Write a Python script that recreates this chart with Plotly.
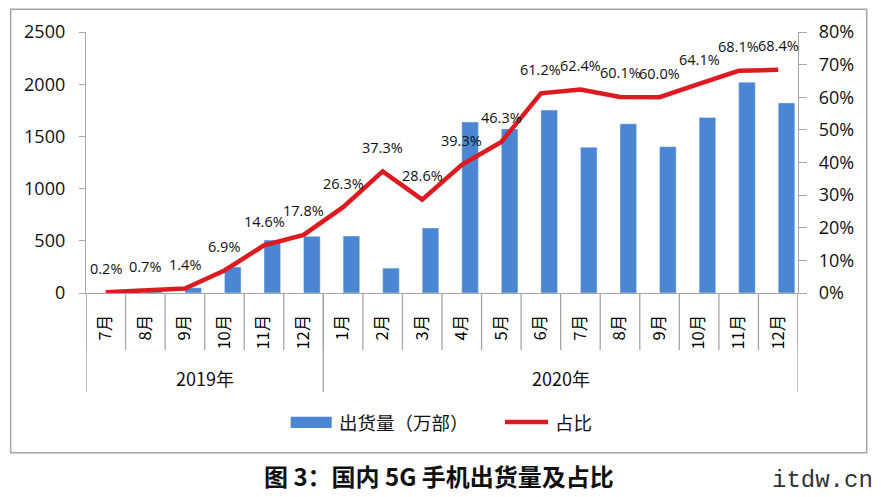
import plotly.graph_objects as go

months = ["7月", "8月", "9月", "10月", "11月", "12月",
          "1月", "2月", "3月", "4月", "5月", "6月", "7月", "8月", "9月", "10月", "11月", "12月"]
years = ["2019年", "2020年"]
year_counts = [6, 12]
shipments = [3, 20, 50, 249, 507, 543,
             546, 238, 623, 1638, 1572, 1752, 1396, 1620, 1402, 1682, 2019, 1821]
share = [0.2, 0.7, 1.4, 6.9, 14.6, 17.8,
         26.3, 37.3, 28.6, 39.3, 46.3, 61.2, 62.4, 60.1, 60.0, 64.1, 68.1, 68.4]
legend_names = ["出货量（万部）", "占比"]
caption = "图 3：国内 5G 手机出货量及占比"
source = "itdw.cn"

BAR = "#4a86d2"
RED = "#dc1a20"
GRID = "#a6a6a6"
TXT = "#111111"
CJK = "Noto Sans CJK SC"
LAT = "Open Sans"

x = list(range(len(months)))

fig = go.Figure()
fig.add_trace(go.Bar(x=x, y=shipments, name=legend_names[0], marker_color=BAR,
                     width=0.42, offset=0, showlegend=False))
fig.add_trace(go.Scatter(x=x, y=share, name=legend_names[1], yaxis="y2", mode="lines",
                         line=dict(color=RED, width=4.5), showlegend=False))

annotations = []
for xi, v in zip(x, share):
    annotations.append(dict(x=xi, y=v, xref="x", yref="y2", text=f"{v:.1f}%",
                            showarrow=False, yshift=24,
                            font=dict(family=LAT, size=14.5, color=TXT)))

shapes = []
# month cell dividers
for i in range(len(months) + 1):
    shapes.append(dict(type="line", xref="x", yref="paper", x0=i - 0.5, x1=i - 0.5,
                       y0=0, y1=-0.2184, line=dict(color=GRID, width=1.3)))
# year group dividers and labels
start = 0
bounds = [-0.5]
for yname, cnt in zip(years, year_counts):
    end = start + cnt
    bounds.append(end - 0.5)
    annotations.append(dict(x=(start + end - 1) / 2, y=-0.3257, xref="x", yref="paper",
                            text=yname, showarrow=False, yanchor="middle",
                            font=dict(family=CJK, size=18, color=TXT)))
    start = end
for b in bounds:
    shapes.append(dict(type="line", xref="x", yref="paper", x0=b, x1=b,
                       y0=0, y1=-0.3793, line=dict(color=GRID, width=1.3)))

# legend (manual)
shapes.append(dict(type="rect", xref="paper", yref="paper", x0=0.2875, x1=0.3451,
                   y0=-0.517, y1=-0.474, fillcolor=BAR, line=dict(width=0)))
annotations.append(dict(x=0.3525, y=-0.4943, xref="paper", yref="paper", text=legend_names[0],
                        showarrow=False, xanchor="left", yanchor="middle",
                        font=dict(family=CJK, size=18.5, color=TXT)))
shapes.append(dict(type="line", xref="paper", yref="paper", x0=0.5885, x1=0.6489,
                   y0=-0.4943, y1=-0.4943, line=dict(color=RED, width=4.5)))
annotations.append(dict(x=0.6559, y=-0.4943, xref="paper", yref="paper", text=legend_names[1],
                        showarrow=False, xanchor="left", yanchor="middle",
                        font=dict(family=CJK, size=18.5, color=TXT)))

# outer chart border
shapes.append(dict(type="rect", xref="paper", yref="paper", x0=-0.1058, x1=1.0965,
                   y0=-0.6119, y1=1.087, line=dict(color=GRID, width=1.5),
                   fillcolor="rgba(0,0,0,0)", layer="below"))

# caption and source
annotations.append(dict(x=0.4958, y=-0.700, xref="paper", yref="paper",
                        text="<b>" + caption + "</b>", showarrow=False,
                        xanchor="center", yanchor="middle",
                        font=dict(family=CJK, size=24, color=TXT)))
annotations.append(dict(x=1.108, y=-0.7165, xref="paper", yref="paper", text=source,
                        showarrow=False, xanchor="right", yanchor="middle",
                        font=dict(family="Liberation Mono", size=24, color="#333333")))

fig.update_layout(
    width=881, height=497,
    margin=dict(l=86, r=83, t=32, b=204),
    paper_bgcolor="white", plot_bgcolor="white",
    showlegend=False,
    xaxis=dict(range=[-0.5, len(months) - 0.5], tickmode="array", tickvals=x, ticktext=months,
               tickangle=-90, ticks="", showline=True, linecolor=GRID, linewidth=1.3,
               showgrid=False, zeroline=False, ticklabelstandoff=14,
               tickfont=dict(family=CJK, size=16.5, color="#000000")),
    yaxis=dict(range=[0, 2500], dtick=500, ticks="outside", ticklen=6, tickcolor=GRID,
               showline=True, linecolor=GRID, linewidth=1.3, showgrid=False, zeroline=False,
               ticklabelstandoff=10, tickfont=dict(family=LAT, size=18, color=TXT)),
    yaxis2=dict(range=[0, 80], dtick=10, ticksuffix="%", overlaying="y", side="right",
                ticks="outside", ticklen=8, tickcolor=GRID, showline=True, linecolor=GRID,
                linewidth=1.3, showgrid=False, zeroline=False, ticklabelstandoff=8,
                tickfont=dict(family=LAT, size=18, color=TXT)),
    bargap=0.5,
    annotations=annotations,
    shapes=shapes,
)

fig.write_html("out.html")
